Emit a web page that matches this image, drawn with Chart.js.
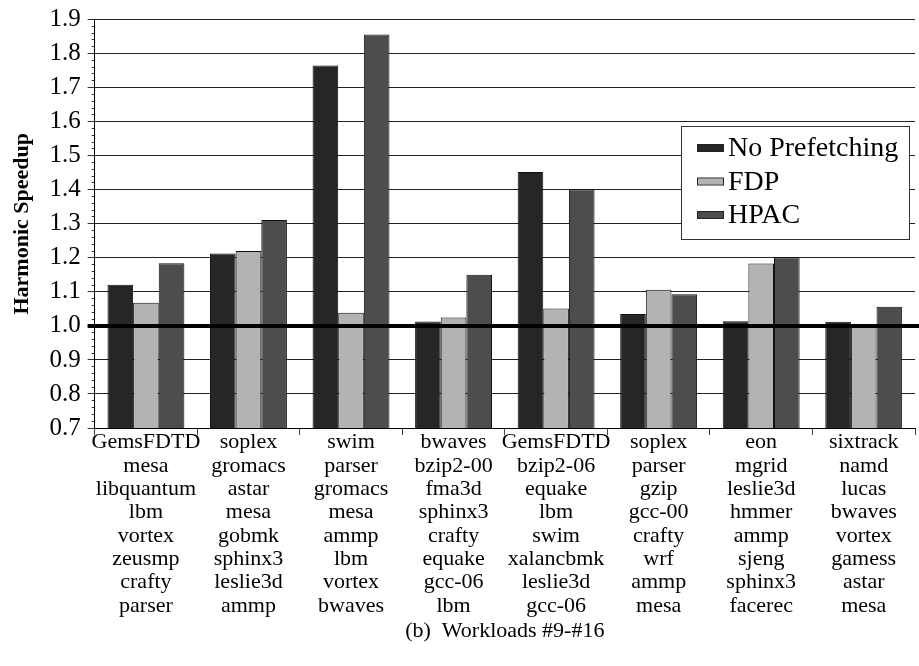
<!DOCTYPE html>
<html>
<head>
<meta charset="utf-8">
<script src="https://cdn.jsdelivr.net/npm/chart.js@4/dist/chart.umd.min.js"></script>
<style>
  html, body { margin: 0; padding: 0; background: #fff; }
  #wrap { width: 919px; height: 666px; }
</style>
</head>
<body>
<div id="wrap"><canvas id="speedupChart"></canvas></div>
<script>
// workload mixes, one column per group (#9 - #16)
const workloads = [
  ['GemsFDTD', 'mesa', 'libquantum', 'lbm', 'vortex', 'zeusmp', 'crafty', 'parser'],
  ['soplex', 'gromacs', 'astar', 'mesa', 'gobmk', 'sphinx3', 'leslie3d', 'ammp'],
  ['swim', 'parser', 'gromacs', 'mesa', 'ammp', 'lbm', 'vortex', 'bwaves'],
  ['bwaves', 'bzip2-00', 'fma3d', 'sphinx3', 'crafty', 'equake', 'gcc-06', 'lbm'],
  ['GemsFDTD', 'bzip2-06', 'equake', 'lbm', 'swim', 'xalancbmk', 'leslie3d', 'gcc-06'],
  ['soplex', 'parser', 'gzip', 'gcc-00', 'crafty', 'wrf', 'ammp', 'mesa'],
  ['eon', 'mgrid', 'leslie3d', 'hmmer', 'ammp', 'sjeng', 'sphinx3', 'facerec'],
  ['sixtrack', 'namd', 'lucas', 'bwaves', 'vortex', 'gamess', 'astar', 'mesa']
];

const noPrefetching = [1.121, 1.213, 1.765, 1.013, 1.452, 1.035, 1.014, 1.012];
const fdp           = [1.068, 1.220, 1.039, 1.025, 1.051, 1.106, 1.183, 1.000];
const hpac          = [1.184, 1.311, 1.856, 1.150, 1.401, 1.093, 1.202, 1.056];

const yMin = 0.7;
const yMax = 1.9;
const minorStep = 0.02;
const baseline = 1.0;

const serif = "'Liberation Serif', 'Times New Roman', serif";

function isMajor(v) {
  return Math.abs(v * 10 - Math.round(v * 10)) < 1e-6;
}

// thick line at speedup = 1.0, drawn over the bars
const baselinePlugin = {
  id: 'baseline',
  afterDatasetsDraw(chart) {
    const y = chart.scales.y.getPixelForValue(baseline);
    const area = chart.chartArea;
    const ctx = chart.ctx;
    ctx.save();
    ctx.strokeStyle = '#000';
    ctx.lineWidth = 4;
    ctx.beginPath();
    ctx.moveTo(area.left - 7, y);
    ctx.lineTo(area.right + 4, y);
    ctx.stroke();
    ctx.restore();
  }
};

// boxed legend inside the plot, top right
const boxLegend = {
  id: 'boxLegend',
  afterDraw(chart) {
    const ctx = chart.ctx;
    const box = { x: 681, y: 126, w: 228, h: 113 };
    ctx.save();
    ctx.fillStyle = '#fff';
    ctx.fillRect(box.x, box.y, box.w, box.h);
    ctx.strokeStyle = '#333';
    ctx.lineWidth = 1;
    ctx.strokeRect(box.x + 0.5, box.y + 0.5, box.w, box.h);
    ctx.font = '28px ' + serif;
    ctx.textBaseline = 'middle';
    chart.data.datasets.forEach((ds, i) => {
      const cy = box.y + 22 + i * 33.5;
      ctx.fillStyle = ds.backgroundColor;
      ctx.fillRect(box.x + 16, cy - 3, 26, 6);
      ctx.strokeStyle = '#222';
      ctx.strokeRect(box.x + 16.5, cy - 3.5, 26, 7);
      ctx.fillStyle = '#000';
      ctx.fillText(ds.label, box.x + 47, cy + 1);
    });
    ctx.restore();
  }
};

new Chart(document.getElementById('speedupChart').getContext('2d'), {
  type: 'bar',
  data: {
    labels: workloads,
    datasets: [
      { label: 'No Prefetching', data: noPrefetching, backgroundColor: '#262626' },
      { label: 'FDP', data: fdp, backgroundColor: '#b3b3b3' },
      { label: 'HPAC', data: hpac, backgroundColor: '#4d4d4d' }
    ]
  },
  options: {
    responsive: true,
    maintainAspectRatio: false,
    animation: false,
    layout: { padding: { left: 9, right: 4, top: 0, bottom: 22 } },
    datasets: {
      bar: {
        borderColor: '#111',
        borderWidth: 1,
        borderSkipped: false,
        categoryPercentage: 0.75,
        barPercentage: 1.0
      }
    },
    plugins: {
      legend: { display: false },
      tooltip: { enabled: false }
    },
    scales: {
      x: {
        grid: {
          offset: true,
          drawOnChartArea: false,
          drawTicks: true,
          tickLength: 7,
          tickColor: '#444'
        },
        border: { color: '#000', width: 1 },
        ticks: {
          color: '#000',
          font: { family: serif, size: 22, lineHeight: 1.06 },
          padding: -4,
          maxRotation: 0,
          autoSkip: false
        },
        title: {
          display: true,
          text: '(b)  Workloads #9-#16',
          color: '#000',
          font: { family: serif, size: 22 },
          padding: { top: 4, bottom: 0 }
        }
      },
      y: {
        min: yMin,
        max: yMax,
        grid: {
          color: ctx => isMajor(ctx.tick.value) ? '#222' : 'rgba(0,0,0,0)',
          tickColor: '#333',
          tickLength: 7,
          tickBorderDash: ctx => isMajor(ctx.tick.value) ? [] : [0, 4, 100]
        },
        border: { color: '#000', width: 1 },
        ticks: {
          stepSize: minorStep,
          autoSkip: false,
          color: '#000',
          padding: 7,
          font: { family: serif, size: 25, lineHeight: 1.0 },
          callback: v => isMajor(v) ? v.toFixed(1) : ''
        },
        title: {
          display: true,
          text: 'Harmonic Speedup',
          color: '#000',
          font: { family: serif, size: 22, weight: 'bold' },
          padding: { top: 0, bottom: 7 }
        }
      }
    }
  },
  plugins: [baselinePlugin, boxLegend]
});
</script>
</body>
</html>
